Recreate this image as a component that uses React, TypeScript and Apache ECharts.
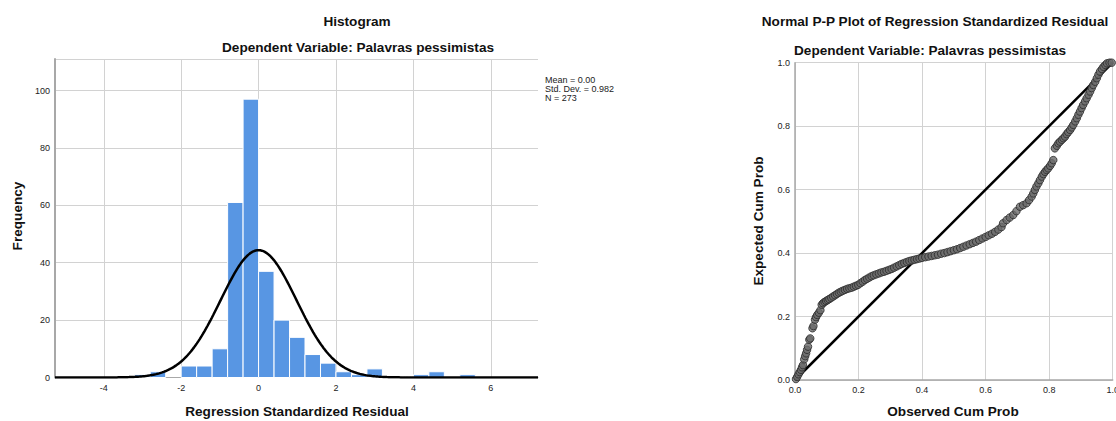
import React, { useEffect, useRef } from "react";
import * as echarts from "echarts";

// Histogram data (bin left edges, bin width 0.4)
const BIN_LEFT = [-3.2, -2.8, -2.4, -2.0, -1.6, -1.2, -0.8, -0.4, 0.0, 0.4, 0.8, 1.2, 1.6, 2.0, 2.4, 2.8, 3.2, 3.6, 4.0, 4.4, 4.8, 5.2];
const BIN_WIDTH = 0.4;
const COUNTS = [1, 2, 0, 4, 4, 10, 61, 97, 37, 20, 14, 8, 5, 2, 1, 3, 0, 0, 1, 2, 0, 1];
const MEAN = 0.0;
const SD = 0.982;
const N = 273;
const HIST_X_TICKS = [-4, -2, 0, 2, 4, 6];
const HIST_X_MIN = -5.26;
const HIST_X_MAX = 7.22;
const LEGEND_LINES = ["Mean = 0.00", "Std. Dev. = 0.982", "N = 273"];

// P-P plot points: [observed cum prob, expected cum prob]
const PP_OBSERVED = [
  0.003, 0.007, 0.011, 0.015, 0.019, 0.022, 0.025, 0.029, 0.032, 0.035, 0.038, 0.041, 0.045, 0.048, 0.055, 0.058,
  0.063, 0.066, 0.07, 0.075, 0.08, 0.084, 0.088, 0.093, 0.098, 0.103, 0.108, 0.114, 0.12, 0.126, 0.132, 0.138,
  0.144, 0.15, 0.157, 0.164, 0.171, 0.178, 0.185, 0.192, 0.199, 0.206, 0.213, 0.22, 0.227, 0.234, 0.241, 0.248,
  0.256, 0.264, 0.272, 0.28, 0.288, 0.296, 0.304, 0.312, 0.32, 0.328, 0.336, 0.344, 0.352, 0.36, 0.368, 0.376,
  0.384, 0.392, 0.4, 0.41, 0.42, 0.43, 0.44, 0.45, 0.46, 0.47, 0.48, 0.49, 0.5, 0.51, 0.52, 0.53,
  0.54, 0.55, 0.56, 0.57, 0.58, 0.59, 0.6, 0.61, 0.62, 0.63, 0.64, 0.65, 0.655, 0.666, 0.676, 0.687,
  0.697, 0.708, 0.718, 0.729, 0.737, 0.745, 0.75, 0.755, 0.76, 0.766, 0.771, 0.777, 0.782, 0.787, 0.792, 0.797,
  0.803, 0.808, 0.813, 0.818, 0.824, 0.829, 0.834, 0.84, 0.845, 0.85, 0.855, 0.86, 0.866, 0.871, 0.876, 0.882,
  0.887, 0.892, 0.897, 0.902, 0.907, 0.913, 0.918, 0.924, 0.929, 0.934, 0.939, 0.945, 0.95, 0.955, 0.96, 0.966,
  0.971, 0.977, 0.982, 0.99, 0.997,
];
const PP_EXPECTED = [
  0.003, 0.01, 0.018, 0.025, 0.032, 0.04, 0.047, 0.065, 0.075, 0.084, 0.095, 0.105, 0.127, 0.131, 0.163, 0.17,
  0.19, 0.198, 0.205, 0.212, 0.22, 0.237, 0.242, 0.246, 0.249, 0.252, 0.255, 0.259, 0.263, 0.267, 0.271, 0.275,
  0.278, 0.281, 0.284, 0.287, 0.289, 0.291, 0.294, 0.297, 0.3, 0.305, 0.31, 0.315, 0.319, 0.323, 0.327, 0.33,
  0.333, 0.336, 0.339, 0.341, 0.344, 0.347, 0.35, 0.354, 0.358, 0.362, 0.366, 0.369, 0.372, 0.375, 0.377, 0.379,
  0.381, 0.383, 0.385, 0.387, 0.389, 0.391, 0.393, 0.395, 0.398, 0.4, 0.403, 0.406, 0.409, 0.412, 0.416, 0.42,
  0.424, 0.428, 0.432, 0.436, 0.441, 0.446, 0.451, 0.456, 0.461, 0.467, 0.474, 0.482, 0.494, 0.504, 0.512, 0.52,
  0.532, 0.546, 0.551, 0.557, 0.567, 0.578, 0.588, 0.599, 0.61, 0.62, 0.63, 0.641, 0.649, 0.656, 0.662, 0.667,
  0.675, 0.683, 0.693, 0.73, 0.738, 0.746, 0.751, 0.757, 0.762, 0.767, 0.775, 0.781, 0.788, 0.796, 0.804, 0.815,
  0.825, 0.836, 0.846, 0.857, 0.867, 0.878, 0.888, 0.899, 0.909, 0.92, 0.93, 0.94, 0.951, 0.962, 0.972, 0.98,
  0.987, 0.993, 0.998, 1.0, 1.0,
];
const DIAGONAL = [[0, 0], [1, 1]];

const FONT = "'Liberation Sans', Arial, sans-serif";
const GRID_COLOR = "#d2d2d2";
const AXIS_COLOR = "#a8a8a8";
const BAR_COLOR = "#5896e3";
const BIG_FONT = 13.6;

export default function App() {
  const ref = useRef<HTMLDivElement>(null);

  useEffect(() => {
    if (!ref.current) return;
    const chart = echarts.init(ref.current, undefined, { renderer: "svg" });

    const histData = BIN_LEFT.map((x0, i) => [x0, x0 + BIN_WIDTH, COUNTS[i]]);

    // Fitted normal curve scaled to the histogram (N * binWidth * pdf)
    const curve: number[][] = [];
    const steps = 320;
    for (let k = 0; k <= steps; k++) {
      const x = HIST_X_MIN + ((HIST_X_MAX - HIST_X_MIN) * k) / steps;
      const z = (x - MEAN) / SD;
      const y = (N * BIN_WIDTH * Math.exp(-0.5 * z * z)) / (SD * Math.sqrt(2 * Math.PI));
      curve.push([x, y]);
    }

    const ppData = PP_OBSERVED.map((x, i) => [x, PP_EXPECTED[i]]);

    const tickLabel = { color: "#222", fontSize: 9, fontFamily: FONT };
    const boldText = (text: string, x: number, y: number, rotate = false) => ({
      type: "text",
      x,
      y,
      rotation: rotate ? Math.PI / 2 : 0,
      style: {
        text,
        fontFamily: FONT,
        fontSize: BIG_FONT,
        fontWeight: "bold",
        fill: "#111",
        textAlign: "center",
        textVerticalAlign: "middle",
      },
    });

    chart.setOption({
      animation: false,
      backgroundColor: "#fff",
      grid: [
        { left: 55, top: 59, width: 483, bottom: 43.5, outerBoundsMode: "none", containLabel: false },
        { left: 795, top: 62.7, right: 3.3, bottom: 41, outerBoundsMode: "none", containLabel: false },
      ],
      xAxis: [
        {
          type: "value",
          gridIndex: 0,
          min: HIST_X_MIN,
          max: HIST_X_MAX,
          axisLine: { show: true, onZero: false, lineStyle: { color: AXIS_COLOR, width: 1 } },
          axisTick: { show: false, customValues: HIST_X_TICKS },
          axisLabel: { ...tickLabel, margin: 6, customValues: HIST_X_TICKS },
          splitLine: { show: true, lineStyle: { color: GRID_COLOR, width: 1 } },
        },
        {
          type: "value",
          gridIndex: 1,
          min: 0,
          max: 1,
          interval: 0.2,
          axisLine: { show: true, onZero: false, lineStyle: { color: AXIS_COLOR, width: 1.5 } },
          axisTick: { show: false },
          axisLabel: { ...tickLabel, margin: 5, formatter: (v: number) => v.toFixed(1) },
          splitLine: { show: true, lineStyle: { color: GRID_COLOR, width: 1 } },
        },
      ],
      yAxis: [
        {
          type: "value",
          gridIndex: 0,
          min: 0,
          max: 111,
          interval: 20,
          axisLine: { show: true, onZero: false, lineStyle: { color: AXIS_COLOR, width: 2 } },
          axisTick: { show: false },
          axisLabel: { ...tickLabel, margin: 5, showMaxLabel: false },
          splitLine: { show: true, lineStyle: { color: GRID_COLOR, width: 1 } },
        },
        {
          type: "value",
          gridIndex: 1,
          min: 0,
          max: 1,
          interval: 0.2,
          axisLine: { show: true, onZero: false, lineStyle: { color: AXIS_COLOR, width: 1.5 } },
          axisTick: { show: false },
          axisLabel: { ...tickLabel, margin: 5, formatter: (v: number) => v.toFixed(1) },
          splitLine: { show: true, lineStyle: { color: GRID_COLOR, width: 1 } },
        },
      ],
      series: [
        {
          type: "custom",
          xAxisIndex: 0,
          yAxisIndex: 0,
          data: histData,
          encode: { x: [0, 1], y: 2 },
          renderItem: (params: any, api: any) => {
            const x0 = api.value(0);
            const x1 = api.value(1);
            const c = api.value(2);
            if (!c) return null;
            const p0 = api.coord([x0, 0]);
            const p1 = api.coord([x1, c]);
            return {
              type: "rect",
              shape: { x: p0[0], y: p1[1], width: p1[0] - p0[0], height: p0[1] - p1[1] },
              style: { fill: BAR_COLOR, stroke: "#ffffff", lineWidth: 1 },
            };
          },
        },
        {
          type: "line",
          xAxisIndex: 0,
          yAxisIndex: 0,
          data: curve,
          showSymbol: false,
          symbol: "none",
          lineStyle: { color: "#000", width: 2.5 },
          z: 5,
        },
        {
          type: "line",
          xAxisIndex: 1,
          yAxisIndex: 1,
          data: DIAGONAL,
          showSymbol: false,
          symbol: "none",
          lineStyle: { color: "#000", width: 2.5 },
          z: 4,
        },
        {
          type: "scatter",
          xAxisIndex: 1,
          yAxisIndex: 1,
          data: ppData,
          symbol: "circle",
          symbolSize: 7.5,
          itemStyle: { color: "#6a6a6a", borderColor: "#2b2b2b", borderWidth: 1 },
          z: 5,
        },
      ],
      graphic: [
        boldText("Histogram", 357, 21),
        boldText("Dependent Variable: Palavras pessimistas", 358, 47),
        boldText("Normal P-P Plot of Regression Standardized Residual", 935, 21),
        boldText("Dependent Variable: Palavras pessimistas", 930, 50),
        boldText("Frequency", 17, 216, true),
        boldText("Regression Standardized Residual", 297, 411),
        boldText("Expected Cum Prob", 758, 221, true),
        boldText("Observed Cum Prob", 953, 411),
        {
          type: "text",
          x: 545,
          y: 76,
          style: {
            text: LEGEND_LINES.join("\n"),
            fontFamily: FONT,
            fontSize: 9,
            lineHeight: 8.7,
            fill: "#222",
            textAlign: "left",
            textVerticalAlign: "top",
          },
        },
      ],
    });

    return () => chart.dispose();
  }, []);

  return (
    <div
      ref={ref}
      style={{ position: "absolute", left: 0, top: 0, width: 1116, height: 421 }}
    />
  );
}
